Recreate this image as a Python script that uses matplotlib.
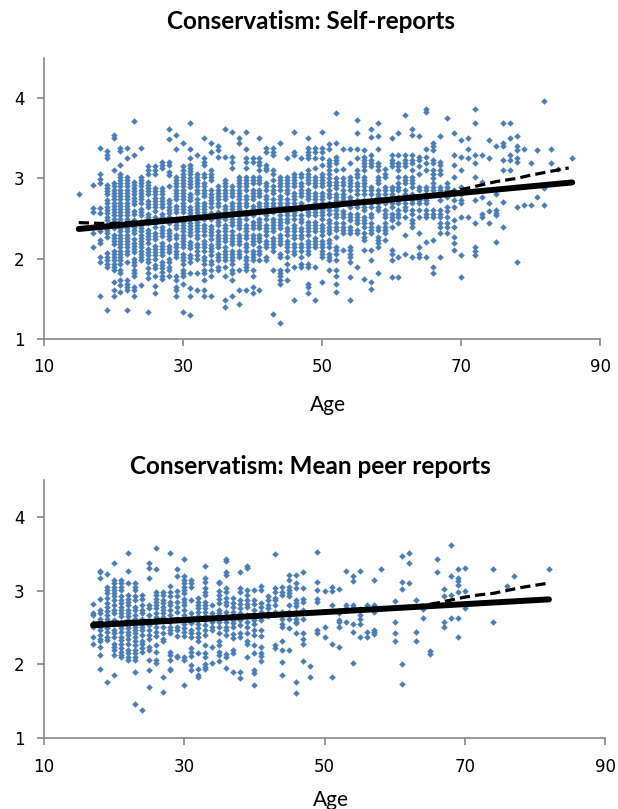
import matplotlib
matplotlib.use("Agg")
import matplotlib.pyplot as plt

# self-report scores by age
self_reports = {
    15: [2.81],
    17: [2.92, 2.63, 2.58, 2.32, 2.14],
    18: [3.38, 3.06, 2.99, 2.94, 2.63, 2.57, 2.34, 2.23, 2.19, 2.02, 1.96, 1.53],
    19: [3.34, 3.29, 3.25, 2.92, 2.88, 2.84, 2.80, 2.73, 2.69, 2.65, 2.61, 2.57, 2.52, 2.48, 2.40, 2.36, 2.32, 2.27, 2.07, 2.02, 1.98, 1.94, 1.90, 1.36],
    20: [3.54, 3.50, 3.10, 2.94, 2.90, 2.86, 2.82, 2.78, 2.74, 2.70, 2.66, 2.62, 2.58, 2.54, 2.50, 2.46, 2.42, 2.38, 2.30, 2.26, 2.22, 2.18, 2.10, 2.06, 2.02, 1.98, 1.94, 1.90, 1.86, 1.71, 1.61, 1.53],
    21: [3.38, 3.34, 3.17, 3.06, 3.02, 2.98, 2.94, 2.90, 2.86, 2.82, 2.78, 2.74, 2.70, 2.66, 2.62, 2.58, 2.54, 2.50, 2.46, 2.42, 2.38, 2.34, 2.30, 2.26, 2.22, 2.18, 2.14, 2.10, 2.06, 2.02, 1.98, 1.94, 1.86, 1.82, 1.73, 1.67, 1.59],
    22: [3.38, 3.25, 3.02, 2.98, 2.94, 2.90, 2.86, 2.82, 2.78, 2.74, 2.70, 2.66, 2.62, 2.58, 2.54, 2.50, 2.46, 2.42, 2.38, 2.34, 2.30, 2.26, 2.22, 2.18, 2.14, 2.10, 2.06, 1.96, 1.73, 1.69, 1.65, 1.61, 1.36],
    23: [3.71, 3.29, 2.96, 2.92, 2.88, 2.84, 2.80, 2.76, 2.72, 2.68, 2.60, 2.56, 2.48, 2.44, 2.40, 2.36, 2.32, 2.24, 2.20, 2.16, 2.12, 2.08, 2.00, 1.96, 1.92, 1.86, 1.82, 1.78, 1.65, 1.61, 1.53],
    24: [3.38, 3.02, 2.98, 2.94, 2.90, 2.86, 2.82, 2.78, 2.74, 2.70, 2.62, 2.58, 2.54, 2.46, 2.42, 2.38, 2.34, 2.30, 2.26, 2.22, 2.18, 2.14, 2.10, 2.06, 2.02, 1.98, 1.67],
    25: [3.15, 3.10, 3.06, 2.96, 2.92, 2.88, 2.84, 2.80, 2.72, 2.68, 2.64, 2.56, 2.52, 2.48, 2.44, 2.36, 2.32, 2.28, 2.24, 2.20, 2.12, 2.08, 2.04, 2.00, 1.96, 1.88, 1.82, 1.76, 1.34],
    26: [3.15, 3.10, 3.06, 2.88, 2.84, 2.80, 2.76, 2.72, 2.68, 2.64, 2.60, 2.52, 2.48, 2.44, 2.40, 2.32, 2.28, 2.24, 2.16, 2.12, 2.08, 2.04, 2.00, 1.92, 1.88, 1.78, 1.66, 1.57],
    27: [3.21, 3.17, 3.13, 2.88, 2.84, 2.80, 2.76, 2.72, 2.68, 2.64, 2.56, 2.52, 2.48, 2.40, 2.36, 2.32, 2.28, 2.20, 2.16, 2.12, 2.08, 2.04, 1.96, 1.92, 1.88, 1.84, 1.78, 1.75],
    28: [3.62, 3.49, 3.21, 3.17, 3.08, 3.04, 2.90, 2.73, 2.69, 2.65, 2.61, 2.57, 2.52, 2.48, 2.44, 2.36, 2.32, 2.28, 2.24, 2.16, 2.12, 2.08, 2.00, 1.96, 1.90, 1.86, 1.78],
    29: [3.54, 3.37, 3.02, 2.98, 2.94, 2.90, 2.86, 2.82, 2.78, 2.74, 2.66, 2.62, 2.58, 2.50, 2.46, 2.42, 2.38, 2.30, 2.26, 2.18, 2.14, 2.10, 2.06, 2.02, 1.78, 1.74, 1.65, 1.61, 1.53],
    30: [3.44, 3.15, 3.10, 3.06, 3.02, 2.98, 2.94, 2.90, 2.86, 2.82, 2.78, 2.74, 2.70, 2.66, 2.62, 2.58, 2.50, 2.46, 2.42, 2.38, 2.34, 2.30, 2.26, 2.22, 2.18, 2.14, 2.06, 2.02, 1.98, 1.94, 1.86, 1.82, 1.78, 1.69, 1.34],
    31: [3.69, 3.37, 3.25, 3.17, 3.13, 3.09, 3.05, 3.01, 2.97, 2.93, 2.89, 2.81, 2.77, 2.73, 2.65, 2.61, 2.57, 2.53, 2.45, 2.41, 2.37, 2.33, 2.29, 2.21, 2.17, 2.13, 2.05, 2.01, 1.96, 1.82, 1.63, 1.53, 1.30],
    32: [3.29, 3.06, 3.02, 2.98, 2.94, 2.90, 2.86, 2.82, 2.74, 2.70, 2.66, 2.62, 2.58, 2.54, 2.46, 2.42, 2.38, 2.34, 2.30, 2.26, 2.18, 2.14, 2.10, 2.04, 2.00, 1.82, 1.61],
    33: [3.50, 3.25, 3.21, 3.17, 3.06, 3.02, 2.94, 2.90, 2.86, 2.82, 2.78, 2.70, 2.66, 2.62, 2.58, 2.54, 2.50, 2.42, 2.38, 2.34, 2.30, 2.22, 2.18, 2.14, 2.10, 2.02, 1.98, 1.94, 1.86, 1.82, 1.73, 1.61, 1.53],
    34: [3.44, 3.33, 3.10, 3.06, 3.02, 2.98, 2.85, 2.81, 2.77, 2.73, 2.69, 2.65, 2.57, 2.53, 2.49, 2.41, 2.37, 2.33, 2.29, 2.25, 2.17, 2.13, 2.09, 2.05, 1.97, 1.93, 1.86, 1.78, 1.53],
    35: [3.40, 3.35, 3.27, 2.90, 2.86, 2.82, 2.78, 2.74, 2.70, 2.66, 2.58, 2.54, 2.50, 2.46, 2.42, 2.34, 2.30, 2.26, 2.22, 2.18, 2.14, 2.06, 2.02, 1.98, 1.90, 1.86],
    36: [3.62, 3.27, 2.98, 2.94, 2.90, 2.86, 2.82, 2.78, 2.74, 2.66, 2.62, 2.58, 2.54, 2.50, 2.42, 2.38, 2.34, 2.30, 2.26, 2.22, 2.14, 2.10, 2.06, 2.02, 1.98, 1.90, 1.78, 1.49, 1.40],
    37: [3.58, 3.27, 3.21, 3.13, 2.90, 2.86, 2.82, 2.78, 2.70, 2.66, 2.62, 2.58, 2.50, 2.46, 2.42, 2.34, 2.30, 2.26, 2.22, 2.18, 2.10, 2.06, 2.02, 1.98, 1.94, 1.86, 1.82, 1.73, 1.53],
    38: [3.50, 3.44, 3.02, 2.98, 2.94, 2.90, 2.86, 2.82, 2.78, 2.74, 2.70, 2.66, 2.62, 2.54, 2.50, 2.46, 2.42, 2.38, 2.30, 2.26, 2.22, 2.18, 2.10, 2.06, 2.02, 1.86, 1.61, 1.44],
    39: [3.58, 3.37, 3.25, 3.21, 3.13, 3.02, 2.98, 2.94, 2.90, 2.86, 2.78, 2.74, 2.70, 2.66, 2.58, 2.54, 2.50, 2.42, 2.38, 2.34, 2.30, 2.26, 2.18, 2.14, 2.10, 2.02, 1.98, 1.94, 1.90, 1.86, 1.61],
    40: [3.25, 3.21, 3.02, 2.98, 2.94, 2.86, 2.82, 2.78, 2.74, 2.66, 2.62, 2.58, 2.54, 2.46, 2.42, 2.38, 2.30, 2.26, 2.22, 2.18, 2.10, 2.06, 2.02, 1.98, 1.86, 1.78, 1.65, 1.57],
    41: [3.50, 3.25, 3.21, 3.17, 3.10, 3.02, 2.98, 2.94, 2.86, 2.82, 2.78, 2.70, 2.66, 2.62, 2.58, 2.50, 2.46, 2.42, 2.38, 2.30, 2.26, 2.22, 2.14, 2.10, 2.06, 1.98, 1.61],
    42: [3.38, 3.33, 3.17, 3.13, 3.10, 2.94, 2.90, 2.86, 2.78, 2.74, 2.70, 2.66, 2.58, 2.54, 2.50, 2.42, 2.38, 2.34, 2.30, 2.22, 2.18, 2.14, 2.02, 1.98],
    43: [3.38, 3.33, 3.29, 3.10, 3.06, 2.98, 2.90, 2.86, 2.82, 2.74, 2.70, 2.66, 2.58, 2.50, 2.46, 2.42, 2.38, 2.34, 2.26, 2.22, 2.18, 2.14, 2.10, 1.86, 1.31],
    44: [3.44, 3.02, 2.98, 2.94, 2.90, 2.86, 2.78, 2.74, 2.70, 2.66, 2.62, 2.54, 2.50, 2.46, 2.42, 2.38, 2.30, 2.26, 2.22, 2.18, 2.06, 2.02, 1.86, 1.82, 1.78, 1.73, 1.69, 1.20],
    45: [3.25, 3.02, 2.98, 2.94, 2.90, 2.86, 2.82, 2.74, 2.70, 2.66, 2.58, 2.54, 2.50, 2.46, 2.38, 2.34, 2.30, 2.22, 2.18, 2.14, 2.10, 2.02, 1.94, 1.86, 1.73],
    46: [3.58, 3.33, 3.29, 3.06, 3.02, 2.98, 2.94, 2.90, 2.82, 2.78, 2.74, 2.70, 2.62, 2.58, 2.54, 2.50, 2.42, 2.38, 2.34, 2.30, 2.26, 2.18, 2.14, 2.10, 2.06, 1.90, 1.49],
    47: [3.25, 3.06, 3.02, 2.94, 2.90, 2.86, 2.82, 2.78, 2.70, 2.66, 2.62, 2.54, 2.50, 2.46, 2.38, 2.34, 2.30, 2.26, 2.18, 2.14, 2.10, 2.02, 1.94, 1.90],
    48: [3.50, 3.38, 3.33, 3.29, 3.25, 3.10, 3.06, 3.02, 2.98, 2.94, 2.86, 2.82, 2.78, 2.74, 2.66, 2.62, 2.58, 2.54, 2.46, 2.42, 2.38, 2.34, 2.30, 2.22, 2.18, 2.14, 2.10, 2.06, 1.94, 1.90, 1.69, 1.65, 1.57],
    49: [3.38, 3.33, 3.25, 3.13, 3.02, 2.98, 2.94, 2.90, 2.82, 2.78, 2.74, 2.70, 2.62, 2.58, 2.54, 2.46, 2.42, 2.38, 2.34, 2.26, 2.22, 2.18, 2.14, 1.90, 1.49],
    50: [3.58, 3.38, 3.33, 3.25, 3.17, 3.06, 3.02, 2.98, 2.94, 2.90, 2.82, 2.78, 2.74, 2.70, 2.62, 2.58, 2.54, 2.50, 2.42, 2.38, 2.34, 2.30, 2.22, 2.18, 2.14, 2.10, 2.06, 2.02, 1.71],
    51: [3.43, 3.37, 3.23, 3.19, 3.15, 3.10, 3.06, 3.00, 2.96, 2.92, 2.85, 2.81, 2.77, 2.69, 2.65, 2.61, 2.56, 2.48, 2.44, 2.40, 2.36, 2.32, 2.23, 2.19, 2.15, 2.06, 2.02, 1.98, 1.86],
    52: [3.81, 3.44, 3.27, 3.23, 3.19, 3.10, 3.00, 2.96, 2.92, 2.88, 2.81, 2.77, 2.73, 2.65, 2.61, 2.56, 2.52, 2.44, 2.40, 2.36, 2.27, 2.15, 2.11, 2.06, 1.98, 1.86, 1.78, 1.69, 1.59],
    53: [3.37, 3.12, 3.00, 2.96, 2.92, 2.85, 2.81, 2.77, 2.73, 2.60, 2.56, 2.52, 2.44, 2.40, 2.36, 2.32, 2.11],
    54: [3.37, 3.19, 3.02, 2.98, 2.94, 2.90, 2.85, 2.77, 2.73, 2.69, 2.65, 2.56, 2.52, 2.48, 2.40, 2.36, 2.32, 2.15, 2.11, 2.06, 2.02, 1.96, 1.77, 1.49],
    55: [3.73, 3.57, 3.37, 3.25, 3.10, 3.06, 3.02, 2.94, 2.90, 2.85, 2.81, 2.73, 2.69, 2.65, 2.56, 2.52, 2.48, 2.44, 2.36, 2.32, 1.90],
    56: [3.35, 3.27, 3.23, 3.19, 3.15, 3.10, 3.02, 2.98, 2.94, 2.90, 2.85, 2.81, 2.73, 2.69, 2.65, 2.61, 2.52, 2.48, 2.44, 2.40, 2.32, 2.27, 2.23, 2.11, 1.75],
    57: [3.62, 3.52, 3.29, 3.23, 3.19, 3.15, 2.89, 2.85, 2.81, 2.73, 2.69, 2.65, 2.56, 2.52, 2.44, 2.40, 2.36, 2.32, 2.11, 1.98, 1.71, 1.62],
    58: [3.69, 3.53, 3.37, 3.19, 3.15, 3.10, 3.02, 2.98, 2.94, 2.85, 2.81, 2.77, 2.69, 2.65, 2.61, 2.40, 2.36, 2.27, 2.23, 2.19, 2.15, 1.82],
    59: [3.12, 3.06, 3.02, 2.89, 2.85, 2.81, 2.73, 2.69, 2.61, 2.56, 2.52, 2.44, 2.40, 2.36, 2.32, 2.23],
    60: [3.50, 3.29, 3.23, 3.19, 3.15, 2.89, 2.85, 2.81, 2.77, 2.69, 2.65, 2.56, 2.52, 2.48, 2.40, 2.11, 2.06, 1.98, 1.77],
    61: [3.57, 3.29, 3.19, 3.15, 3.10, 3.02, 2.94, 2.89, 2.85, 2.77, 2.73, 2.69, 2.61, 2.56, 2.52, 2.44, 2.02, 1.77],
    62: [3.79, 3.29, 3.23, 3.19, 3.15, 3.02, 2.98, 2.94, 2.85, 2.81, 2.77, 2.69, 2.65, 2.61, 2.52, 2.29, 2.06],
    63: [3.62, 3.54, 3.29, 3.23, 3.19, 3.10, 3.02, 2.98, 2.94, 2.89, 2.81, 2.77, 2.73, 2.69, 2.61, 2.56, 2.48, 2.44, 2.40, 2.02],
    64: [3.53, 3.27, 3.23, 3.15, 3.06, 2.89, 2.85, 2.77, 2.73, 2.69, 2.61, 2.52, 2.32, 2.15, 2.06, 2.02],
    65: [3.87, 3.83, 3.37, 3.27, 3.19, 3.10, 2.89, 2.85, 2.81, 2.73, 2.69, 2.61, 2.56, 2.52, 2.21, 2.02],
    66: [3.44, 3.40, 3.35, 3.23, 3.19, 3.10, 3.06, 3.00, 2.94, 2.89, 2.85, 2.81, 2.61, 2.56, 2.52, 2.23, 1.90, 1.82],
    67: [3.53, 3.21, 3.17, 3.10, 3.06, 2.89, 2.85, 2.81, 2.73, 2.61, 2.56, 2.52, 2.44, 2.40, 2.32, 2.02],
    68: [3.75, 2.94, 2.89, 2.85, 2.77, 2.65, 2.60, 2.52, 2.44, 2.40, 2.32],
    69: [3.57, 3.29, 3.17, 3.02, 2.85, 2.81, 2.73, 2.65, 2.48, 2.40, 2.27, 2.19, 2.11],
    70: [3.48, 3.27, 3.10, 2.89, 2.81, 2.73, 2.69, 2.52, 2.05, 1.77],
    71: [3.50, 3.37, 3.25, 2.52],
    72: [3.87, 3.69, 3.29, 3.19, 3.02, 2.73, 2.44, 2.15, 2.10, 2.05],
    73: [3.29, 2.96, 2.77, 2.56, 2.52],
    74: [3.48, 3.25, 2.69, 2.59, 2.44],
    75: [3.40, 2.81, 2.61, 2.57, 2.54, 2.21],
    76: [3.69, 3.44, 3.40, 3.23, 3.10, 2.71, 2.40],
    77: [3.69, 3.50, 3.29, 3.23, 3.10],
    78: [3.53, 3.40, 3.35, 3.25, 3.21, 2.65, 1.96],
    79: [3.37, 2.67],
    80: [3.19, 2.67],
    81: [3.35, 2.77],
    82: [3.96, 2.88, 2.67],
    83: [3.37, 3.19],
    84: [3.12],
    86: [3.25],
}

# mean peer-report scores by age
peer_reports = {
    17: [2.82, 2.69, 2.67, 2.56, 2.51, 2.37, 2.27],
    18: [3.27, 3.25, 3.17, 2.89, 2.74, 2.69, 2.62, 2.58, 2.51, 2.46, 2.40, 2.35, 2.31, 2.24, 2.13, 1.94],
    19: [3.23, 3.05, 3.01, 2.96, 2.90, 2.83, 2.78, 2.72, 2.67, 2.62, 2.58, 2.49, 2.44, 2.37, 2.33, 1.76],
    20: [3.37, 3.14, 3.10, 3.05, 3.01, 2.96, 2.92, 2.87, 2.80, 2.74, 2.69, 2.60, 2.55, 2.47, 2.42, 2.37, 2.28, 2.24, 2.19, 2.13, 1.86],
    21: [3.14, 3.10, 3.05, 3.01, 2.92, 2.87, 2.83, 2.78, 2.74, 2.69, 2.65, 2.58, 2.53, 2.49, 2.44, 2.37, 2.33, 2.28, 2.22, 2.17, 2.13, 2.10],
    22: [3.51, 3.27, 3.10, 2.94, 2.89, 2.85, 2.80, 2.74, 2.69, 2.65, 2.60, 2.53, 2.49, 2.44, 2.40, 2.35, 2.28, 2.19, 2.15, 2.10, 2.06],
    23: [3.10, 3.05, 3.01, 2.92, 2.87, 2.78, 2.74, 2.67, 2.62, 2.58, 2.51, 2.47, 2.42, 2.37, 2.31, 2.26, 2.19, 2.15, 2.10, 2.06, 1.90, 1.47],
    24: [2.94, 2.89, 2.80, 2.74, 2.69, 2.62, 2.55, 2.51, 2.46, 2.40, 2.31, 2.28, 2.22, 2.17, 1.38],
    25: [3.37, 3.31, 3.17, 2.80, 2.76, 2.67, 2.60, 2.53, 2.46, 2.40, 2.35, 2.24, 2.19, 2.06, 1.92, 1.70],
    26: [3.58, 3.29, 2.98, 2.94, 2.89, 2.85, 2.80, 2.76, 2.69, 2.64, 2.58, 2.51, 2.44, 2.38, 2.26, 2.17, 2.06, 2.02],
    27: [2.98, 2.94, 2.87, 2.83, 2.78, 2.74, 2.69, 2.64, 2.51, 2.42, 2.35, 2.31, 1.83, 1.63],
    28: [3.51, 3.06, 2.98, 2.92, 2.85, 2.80, 2.74, 2.67, 2.58, 2.51, 2.47, 2.42, 2.17, 2.13, 2.06, 1.94, 1.92],
    29: [3.29, 3.19, 2.99, 2.92, 2.85, 2.78, 2.71, 2.62, 2.51, 2.46, 2.38, 2.12, 2.10],
    30: [3.43, 3.19, 3.14, 3.10, 3.05, 3.01, 2.96, 2.89, 2.85, 2.80, 2.74, 2.67, 2.62, 2.55, 2.49, 2.44, 2.38, 2.10, 2.06, 1.72],
    31: [3.14, 3.10, 3.05, 2.87, 2.69, 2.56, 2.46, 2.42, 2.37, 2.22, 2.17, 2.12, 1.99, 1.92],
    32: [2.90, 2.85, 2.80, 2.76, 2.71, 2.65, 2.60, 2.54, 2.49, 2.42, 2.37, 2.31, 2.15, 1.94, 1.86, 1.83],
    33: [3.33, 3.17, 3.12, 3.03, 2.98, 2.94, 2.85, 2.81, 2.76, 2.71, 2.65, 2.60, 2.53, 2.47, 2.40, 2.26, 2.15, 2.10, 2.01, 1.97, 1.94],
    34: [2.80, 2.69, 2.62, 2.57, 2.51, 2.46, 2.24, 2.02],
    35: [3.12, 3.10, 2.99, 2.94, 2.89, 2.83, 2.74, 2.69, 2.64, 2.58, 2.51, 2.42, 2.32, 2.26, 2.17, 2.13, 2.04],
    36: [3.43, 3.40, 3.25, 3.21, 3.04, 2.98, 2.90, 2.85, 2.80, 2.71, 2.64, 2.58, 2.51, 2.47, 2.40, 2.14, 2.10, 1.95],
    37: [2.90, 2.83, 2.78, 2.71, 2.65, 2.60, 2.56, 2.51, 2.41, 2.36, 2.19, 2.15, 1.90],
    38: [3.25, 3.03, 2.98, 2.87, 2.82, 2.76, 2.69, 2.60, 2.53, 2.42, 2.37, 1.90, 1.81],
    39: [3.33, 3.31, 3.01, 2.94, 2.87, 2.82, 2.78, 2.67, 2.58, 2.51, 2.42, 2.32, 2.28, 2.10],
    40: [3.01, 2.87, 2.82, 2.74, 2.67, 2.60, 2.55, 2.47, 2.40, 2.26, 2.15, 1.92, 1.88, 1.72],
    41: [3.06, 3.01, 2.83, 2.78, 2.71, 2.67, 2.60, 2.47, 2.38, 2.24, 2.15, 2.12, 2.04],
    42: [2.92, 2.87, 2.80, 2.76, 2.69, 2.65],
    43: [3.49, 3.03, 2.98, 2.90, 2.87, 2.80, 2.71, 2.26, 2.22],
    44: [3.05, 2.98, 2.94, 2.71, 2.62, 2.54, 2.51, 2.32, 2.19, 2.03, 1.86],
    45: [3.21, 3.14, 3.05, 3.01, 2.96, 2.92, 2.80, 2.71, 2.62, 2.49, 2.19],
    46: [3.21, 3.10, 3.03, 2.87, 2.83, 2.79, 2.71, 2.62, 2.58, 2.56, 2.42, 1.76, 1.61],
    47: [3.25, 3.03, 2.89, 2.84, 2.74, 2.62, 2.43, 2.35, 2.28, 2.04],
    48: [1.98, 1.83],
    49: [3.52, 3.12, 3.01, 2.89, 2.85, 2.46, 2.42],
    50: [2.99, 2.51, 2.37],
    51: [3.05, 2.99, 2.80, 2.28, 1.83],
    52: [3.02, 2.69, 2.60, 2.58, 2.51, 2.24],
    53: [3.27, 2.81, 2.76, 2.57],
    54: [3.19, 3.13, 2.81, 2.76, 2.55, 2.44, 2.02],
    55: [3.27, 2.75, 2.67, 2.62, 2.55, 2.37],
    56: [2.81, 2.44, 2.37],
    57: [3.14, 2.81, 2.71, 2.47, 2.44, 2.41],
    58: [3.29],
    60: [2.86, 2.57, 2.42, 2.32],
    61: [3.47, 3.12, 3.02, 2.00, 1.74],
    62: [3.51, 3.37, 3.10],
    63: [2.87, 2.44, 2.32],
    64: [2.75, 2.63],
    65: [2.18, 2.14],
    66: [3.43, 3.25],
    67: [3.02, 2.92, 2.57, 2.51],
    68: [3.61, 3.19, 2.94, 2.63],
    69: [3.29, 3.17, 3.13, 3.08, 2.98, 2.63, 2.37],
    70: [3.31, 2.99, 2.76],
    74: [3.29, 2.57],
    76: [3.06],
    77: [3.19],
    82: [3.29],
}

# linear fits (solid) and smoothed fits (dashed)
self_fit_ages = [15, 86]
self_fit_vals = [2.37, 2.95]
self_smooth_ages = [15, 18, 20, 22, 25, 30, 40, 50, 60, 65, 68, 70, 72, 75, 78, 80, 83, 85.5]
self_smooth_vals = [2.45, 2.44, 2.44, 2.45, 2.47, 2.50, 2.57, 2.65, 2.74, 2.78, 2.82, 2.86, 2.90, 2.96, 3.00, 3.04, 3.09, 3.13]

peer_fit_ages = [17, 82]
peer_fit_vals = [2.53, 2.88]
peer_smooth_ages = [17, 20, 30, 40, 50, 60, 64, 66, 68, 70, 72, 74, 76, 78, 80, 82]
peer_smooth_vals = [2.56, 2.57, 2.62, 2.67, 2.72, 2.77, 2.80, 2.83, 2.87, 2.91, 2.94, 2.96, 3.00, 3.04, 3.07, 3.10]

titles = ["Conservatism: Self-reports", "Conservatism: Mean peer reports"]

point_color = "#4a7ebb"
axis_color = "#868686"

fig = plt.figure(figsize=(6.18, 8.09), dpi=100)
ax_top = fig.add_axes([0.0712, 0.581, 0.8997, 0.3473])
ax_bot = fig.add_axes([0.0712, 0.0874, 0.9078, 0.3197])

panels = [
    (ax_top, self_reports, self_fit_ages, self_fit_vals, self_smooth_ages, self_smooth_vals),
    (ax_bot, peer_reports, peer_fit_ages, peer_fit_vals, peer_smooth_ages, peer_smooth_vals),
]

for ax, data, fa, fv, sa, sv in panels:
    xs = []
    ys = []
    for age, vals in data.items():
        xs += [age] * len(vals)
        ys += vals
    ax.scatter(xs, ys, marker="D", s=11, color=point_color, linewidths=0, zorder=2)
    ax.plot(fa, fv, color="black", lw=4.3, solid_capstyle="round", zorder=3)
    ax.plot(sa, sv, color="black", lw=2.3, dashes=(3.2, 1.6), zorder=4)

    ax.set_xlim(10, 90)
    ax.set_ylim(1, 4.5)
    ax.set_xticks([10, 30, 50, 70, 90])
    ax.set_yticks([1, 2, 3, 4])
    for side in ["top", "right"]:
        ax.spines[side].set_visible(False)
    for side in ["left", "bottom"]:
        ax.spines[side].set_color(axis_color)
        ax.spines[side].set_linewidth(1.2)
    ax.tick_params(axis="both", colors=axis_color, length=5, width=1.2, direction="out",
                   labelcolor="black", labelsize=12)
    ax.tick_params(axis="y", pad=9)
    ax.tick_params(axis="x", pad=9)
    for lab in ax.get_xticklabels() + ax.get_yticklabels():
        lab.set_family("DejaVu Sans")

# titles and axis labels placed where they sit in the original
fig.text(0.503, 0.973, titles[0], ha="center", va="center", fontsize=17.5, family="Lato", fontweight="bold")
fig.text(0.503, 0.4228, titles[1], ha="center", va="center", fontsize=17.5, family="Lato", fontweight="bold")
fig.text(0.531, 0.4994, "Age", ha="center", va="center", fontsize=15, family="Lato")
fig.text(0.535, 0.011, "Age", ha="center", va="center", fontsize=15, family="Lato")

plt.savefig("out.png", dpi=100)
